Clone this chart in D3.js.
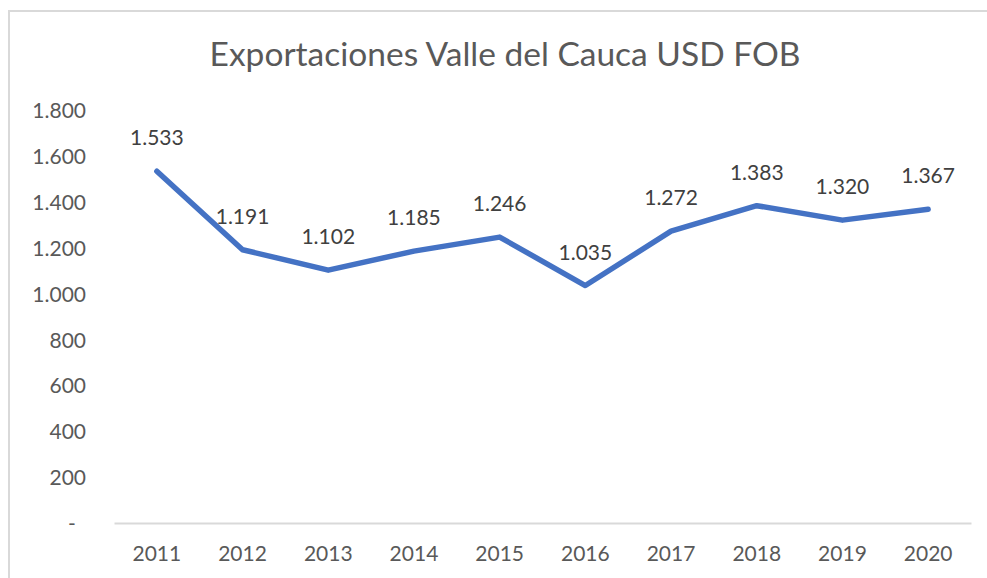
<!DOCTYPE html>
<html>
<head>
<meta charset="utf-8">
<script src="https://cdn.jsdelivr.net/npm/d3@7"></script>
<style>
  html, body { margin: 0; padding: 0; background: #fff; }
  svg { display: block; font-family: Lato, 'Open Sans', sans-serif; }
</style>
</head>
<body>
<svg width="987" height="578"></svg>
<script>
const years = ['2011', '2012', '2013', '2014', '2015', '2016', '2017', '2018', '2019', '2020']
const exports = [1533, 1191, 1102, 1185, 1246, 1035, 1272, 1383, 1320, 1367]
const yTicks = [0, 200, 400, 600, 800, 1000, 1200, 1400, 1600, 1800]
const title = 'Exportaciones Valle del Cauca USD FOB'

const svg = d3.select('svg')
const margin = { top: 110, right: 16, bottom: 55, left: 114 }
const plotRight = 971
const plotBottom = 523

// chart frame (runs past the picture on right and bottom)
svg.append('rect')
  .attr('x', 9)
  .attr('y', 11)
  .attr('width', 1000)
  .attr('height', 600)
  .attr('fill', 'none')
  .attr('stroke', '#d9d9d9')
  .attr('stroke-width', 2)

svg.append('text')
  .attr('x', 505)
  .attr('y', 66)
  .attr('text-anchor', 'middle')
  .attr('font-size', 33.5)
  .attr('fill', '#595959')
  .text(title)

const x = d3.scaleBand()
  .domain(years)
  .range([margin.left, plotRight])

const y = d3.scaleLinear()
  .domain([0, 1800])
  .range([plotBottom, margin.top])

const fmt = v => v === 0 ? '-' : d3.format(',')(v).replace(/,/g, '.')

// y axis labels (no line)
const yAxis = svg.append('g')
  .attr('transform', `translate(86,0)`)
  .call(d3.axisLeft(y).tickValues(yTicks).tickFormat(fmt).tickSize(0).tickPadding(0))
yAxis.select('.domain').remove()
yAxis.selectAll('text')
  .attr('font-size', 21)
  .attr('font-family', 'Lato, sans-serif')
  .attr('fill', '#595959')
  .attr('dy', '0.36em')
yAxis.selectAll('.tick')
  .filter(d => d === 0)
  .select('text')
  .attr('x', -14)
  .attr('text-anchor', 'middle')

// x axis
const xAxis = svg.append('g')
  .attr('transform', `translate(0,${plotBottom})`)
  .call(d3.axisBottom(x).tickSize(0).tickPadding(0))
xAxis.select('.domain')
  .attr('stroke', '#d9d9d9')
  .attr('stroke-width', 2)
xAxis.selectAll('text')
  .attr('font-size', 21)
  .attr('font-family', 'Lato, sans-serif')
  .attr('fill', '#595959')
  .attr('dy', 0)
  .attr('y', 38)

const cx = d => x(d) + x.bandwidth() / 2

const line = d3.line()
  .x((d, i) => cx(years[i]))
  .y(d => y(d))

svg.append('path')
  .datum(exports)
  .attr('d', line)
  .attr('fill', 'none')
  .attr('stroke', '#4472c4')
  .attr('stroke-width', 5.5)
  .attr('stroke-linejoin', 'round')
  .attr('stroke-linecap', 'round')

svg.append('g')
  .selectAll('text')
  .data(exports)
  .join('text')
  .attr('x', (d, i) => cx(years[i]))
  .attr('y', d => y(d) - 26)
  .attr('text-anchor', 'middle')
  .attr('font-size', 21)
  .attr('fill', '#404040')
  .text(d => fmt(d))
</script>
</body>
</html>
